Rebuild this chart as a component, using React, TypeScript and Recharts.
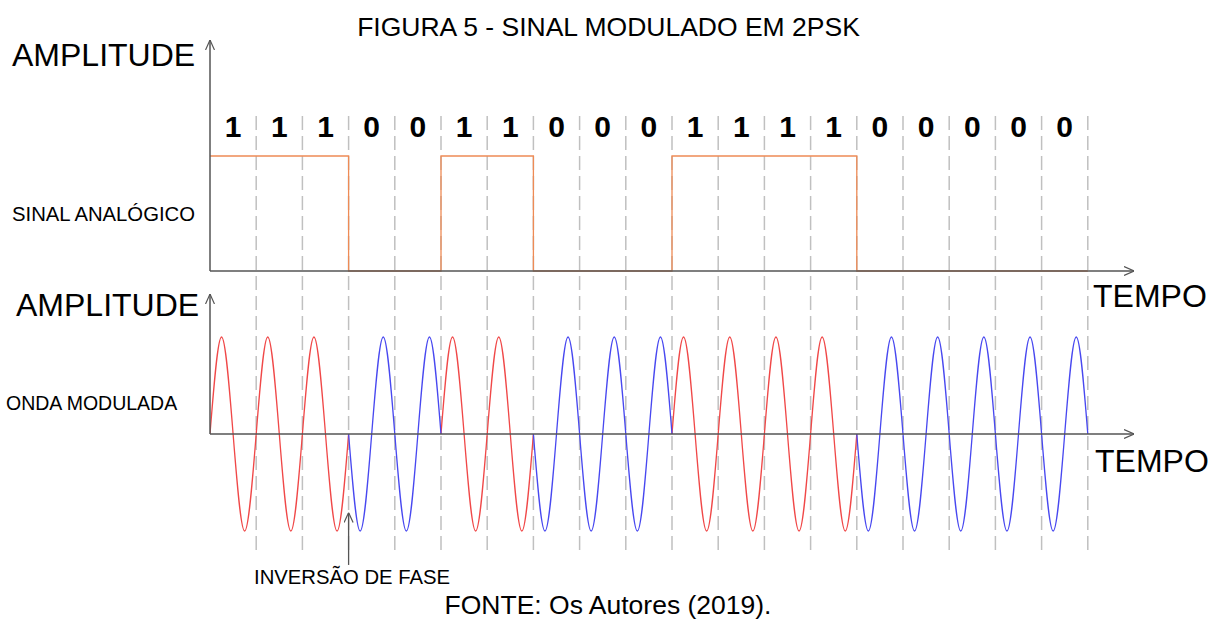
import React from "react";
import { ComposedChart, Line, XAxis, YAxis, ReferenceLine, Scatter } from "recharts";

// ---- data ----
const bits = [1, 1, 1, 0, 0, 1, 1, 0, 0, 0, 1, 1, 1, 1, 0, 0, 0, 0, 0];
// carrier samples at quarter-period points for a "1" bit (a "0" bit is phase inverted)
const carrierQuarter = [0, 1, 0, -1];
const bitLabelLevel = 1.165; // height of the bit labels on the square-wave scale
const dashTop = 3.34; // top of the dashed bit separators on the wave scale
const waveAxisTop = 1.443;
const arrowFrom = -1.35;
const arrowTo = -0.81;
const phaseInversionBit = 3;

// ---- tables built from the arrays ----
const squareRows = [
  ...bits.map((b, k) => ({ x: k, level: b })),
  { x: bits.length, level: bits[bits.length - 1] },
];

const waveRows: { x: number; red: number | null; blue: number | null }[] = [];
bits.forEach((b, k) => {
  carrierQuarter.forEach((c, q) => {
    const v = b === 1 ? c : -c;
    const prev = k > 0 ? bits[k - 1] : null;
    let red: number | null = null;
    let blue: number | null = null;
    if (b === 1) red = v;
    else if (q === 0 && prev === 1) red = 0;
    if (b === 0) blue = v;
    else if (q === 0 && prev === 0) blue = 0;
    waveRows.push({ x: k + q / 4, red: red === null ? null : red + 0, blue: blue === null ? null : blue + 0 });
  });
});
waveRows.push({
  x: bits.length,
  red: bits[bits.length - 1] === 1 ? 0 : null,
  blue: bits[bits.length - 1] === 0 ? 0 : null,
});

const bitLabelRows = bits.map((b, k) => ({ x: k + 0.5, y: bitLabelLevel, bit: b }));
const separators = bits.map((_, k) => k + 1);

// ---- layout ----
const W = 1211;
const H = 621;
const plotTop = 40;
const plotBottom = 550;
const plotLeft = 210;
const plotRight = 1134;
const waveZero = 434;
const waveAmp = 97;
const sqZero = 271;
const sqHigh = 115;
const plotH = plotBottom - plotTop;
const waveLo = -(plotBottom - waveZero) / waveAmp;
const waveHi = waveLo + plotH / waveAmp;
const sqLo = -(plotBottom - sqZero) / sqHigh;
const sqHi = sqLo + plotH / sqHigh;

const FONT = "'Liberation Sans', Arial, sans-serif";
const AXIS = "#555555";

const BitLabel = (props: any) => (
  <text
    x={props.cx}
    y={props.cy}
    textAnchor="middle"
    fontFamily={FONT}
    fontWeight="bold"
    fontSize={30}
    fill="#000"
  >
    {props.payload.bit}
  </text>
);

export default function App() {
  return (
    <div style={{ position: "absolute", left: 0, top: 0, width: W, height: H, background: "#fff" }}>
      <svg width={0} height={0} style={{ position: "absolute" }}>
        <defs>
          <marker
            id="arrowOpen"
            viewBox="0 0 10 10"
            refX={10}
            refY={5}
            markerWidth={10}
            markerHeight={10}
            markerUnits="userSpaceOnUse"
            orient="auto"
          >
            <path d="M0,0.5 L10,5 L0,9.5" fill="none" stroke={AXIS} strokeWidth={1.2} />
          </marker>
        </defs>
      </svg>
      <ComposedChart
        width={W}
        height={H}
        margin={{ top: plotTop, bottom: H - plotBottom, left: plotLeft, right: W - plotRight }}
      >
        <XAxis type="number" dataKey="x" domain={[0, 20]} allowDataOverflow hide />
        <YAxis yAxisId="sq" type="number" domain={[sqLo, sqHi]} allowDataOverflow hide width={0} />
        <YAxis yAxisId="wave" type="number" domain={[waveLo, waveHi]} allowDataOverflow hide width={0} />

        {separators.map((k) => (
          <ReferenceLine
            key={"sep" + k}
            yAxisId="wave"
            segment={[
              { x: k, y: waveLo },
              { x: k, y: dashTop },
            ]}
            stroke="#c0c0c0"
            strokeWidth={1.5}
            strokeDasharray="14 6"
            ifOverflow="visible"
          />
        ))}

        <Line
          yAxisId="sq"
          data={squareRows}
          dataKey="level"
          type="stepAfter"
          stroke="#EE8B55"
          strokeWidth={1.3}
          dot={false}
          isAnimationActive={false}
        />
        <Line
          yAxisId="wave"
          data={waveRows}
          dataKey="red"
          type="natural"
          stroke="#F04848"
          strokeWidth={1.3}
          dot={false}
          connectNulls={false}
          isAnimationActive={false}
        />
        <Line
          yAxisId="wave"
          data={waveRows}
          dataKey="blue"
          type="natural"
          stroke="#4848F0"
          strokeWidth={1.3}
          dot={false}
          connectNulls={false}
          isAnimationActive={false}
        />

        {/* axes */}
        <ReferenceLine
          yAxisId="sq"
          segment={[
            { x: 0, y: 0 },
            { x: 20, y: 0 },
          ]}
          stroke={AXIS}
          strokeWidth={1.5}
          markerEnd="url(#arrowOpen)"
          ifOverflow="visible"
        />
        <ReferenceLine
          yAxisId="sq"
          segment={[
            { x: 0, y: 0 },
            { x: 0, y: sqHi },
          ]}
          stroke={AXIS}
          strokeWidth={1.5}
          markerEnd="url(#arrowOpen)"
          ifOverflow="visible"
        />
        <ReferenceLine
          yAxisId="wave"
          segment={[
            { x: 0, y: 0 },
            { x: 20, y: 0 },
          ]}
          stroke={AXIS}
          strokeWidth={1.5}
          markerEnd="url(#arrowOpen)"
          ifOverflow="visible"
        />
        <ReferenceLine
          yAxisId="wave"
          segment={[
            { x: 0, y: 0 },
            { x: 0, y: waveAxisTop },
          ]}
          stroke={AXIS}
          strokeWidth={1.5}
          markerEnd="url(#arrowOpen)"
          ifOverflow="visible"
        />
        <ReferenceLine
          yAxisId="wave"
          segment={[
            { x: phaseInversionBit, y: arrowFrom },
            { x: phaseInversionBit, y: arrowTo },
          ]}
          stroke={AXIS}
          strokeWidth={1.3}
          markerEnd="url(#arrowOpen)"
          ifOverflow="visible"
        />

        <Scatter
          yAxisId="sq"
          data={bitLabelRows}
          dataKey="y"
          shape={BitLabel}
          isAnimationActive={false}
        />
      </ComposedChart>

      <svg
        width={W}
        height={H}
        style={{ position: "absolute", left: 0, top: 0, pointerEvents: "none" }}
        fontFamily={FONT}
      >
        <text x={608.5} y={36} textAnchor="middle" fontSize={26.5} fill="#000">
          FIGURA 5 - SINAL MODULADO EM 2PSK
        </text>
        <text x={12} y={66} fontSize={32} fill="#000">AMPLITUDE</text>
        <text x={12} y={221} fontSize={20.3} fill="#000">SINAL ANALÓGICO</text>
        <text x={1093} y={307} fontSize={32} fill="#000">TEMPO</text>
        <text x={16} y={316} fontSize={32} fill="#000">AMPLITUDE</text>
        <text x={6} y={410} fontSize={19.5} fill="#000">ONDA MODULADA</text>
        <text x={1095} y={472} fontSize={32} fill="#000">TEMPO</text>
        <text x={254} y={584} fontSize={20.3} fill="#000">INVERSÃO DE FASE</text>
        <text x={608} y={614} textAnchor="middle" fontSize={26.5} fill="#000">
          FONTE: Os Autores (2019).
        </text>
      </svg>
    </div>
  );
}
